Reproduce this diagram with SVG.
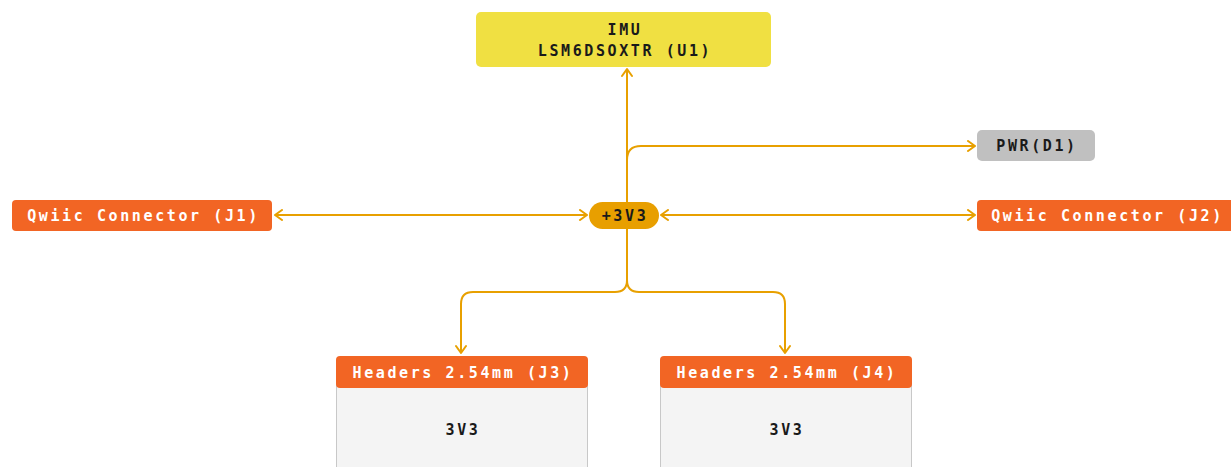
<svg xmlns="http://www.w3.org/2000/svg" width="1231" height="467" viewBox="0 0 1231 467">
<style>
.t{font-family:"DejaVu Sans Mono","Liberation Mono",monospace;font-weight:bold;font-size:15px;letter-spacing:2.6px;text-anchor:middle;dominant-baseline:central}
.dk{fill:#1a1a1a}
.wh{fill:#ffffff}
.ln{fill:none;stroke:#E8A000;stroke-width:2}
.or{fill:#F26524}
</style>
<defs>
<marker id="ah" viewBox="0 0 12 12" refX="10" refY="6" markerWidth="12" markerHeight="12" markerUnits="userSpaceOnUse" orient="auto-start-reverse">
<path d="M3,1 L10,6 L3,11" fill="none" stroke="#E8A000" stroke-width="2" stroke-linecap="round" stroke-linejoin="round"/>
</marker>
</defs>
<g id="connectors">
<path class="ln" d="M627,282 L627,69" marker-end="url(#ah)"/>
<path class="ln" d="M627,160 Q627,146 641,146 L975,146" marker-end="url(#ah)"/>
<path class="ln" d="M275,215 L587,215" marker-start="url(#ah)" marker-end="url(#ah)"/>
<path class="ln" d="M661,215 L975,215" marker-start="url(#ah)" marker-end="url(#ah)"/>
<path class="ln" d="M627,280 Q627,292 615,292 L473,292 Q461,292 461,304 L461,353" marker-end="url(#ah)"/>
<path class="ln" d="M627,280 Q627,292 639,292 L773,292 Q785,292 785,304 L785,353" marker-end="url(#ah)"/>
</g>
<g id="imu">
<rect x="476" y="12" width="295" height="55" rx="5" fill="#F0E042"/>
<text class="t dk" x="625" y="29.5">IMU</text>
<text class="t dk" x="625" y="50.5">LSM6DSOXTR (U1)</text>
</g>
<g id="pwr">
<rect x="977" y="130" width="118" height="31" rx="5" fill="#C0C0C0"/>
<text class="t dk" x="1037" y="146">PWR(D1)</text>
</g>
<g id="v33">
<rect x="589" y="202" width="70" height="27" rx="13.5" fill="#E89F00"/>
<text class="t dk" x="625" y="215.5">+3V3</text>
</g>
<g id="j1">
<rect x="12" y="200" width="260" height="31" rx="4" class="or"/>
<text class="t wh" x="143.5" y="215.5">Qwiic Connector (J1)</text>
</g>
<g id="j2">
<rect x="977" y="200" width="260" height="31" rx="4" class="or"/>
<text class="t wh" x="1107.5" y="215.5">Qwiic Connector (J2)</text>
</g>
<g id="j3">
<rect x="336.5" y="370" width="251" height="110" fill="#F4F4F4" stroke="#C8C8C8" stroke-width="1"/>
<rect x="336" y="356" width="252" height="32" rx="4" class="or"/>
<text class="t wh" x="463" y="372.5">Headers 2.54mm (J3)</text>
<text class="t dk" x="463" y="430">3V3</text>
</g>
<g id="j4">
<rect x="660.5" y="370" width="251" height="110" fill="#F4F4F4" stroke="#C8C8C8" stroke-width="1"/>
<rect x="660" y="356" width="252" height="32" rx="4" class="or"/>
<text class="t wh" x="787" y="372.5">Headers 2.54mm (J4)</text>
<text class="t dk" x="787" y="430">3V3</text>
</g>
</svg>
